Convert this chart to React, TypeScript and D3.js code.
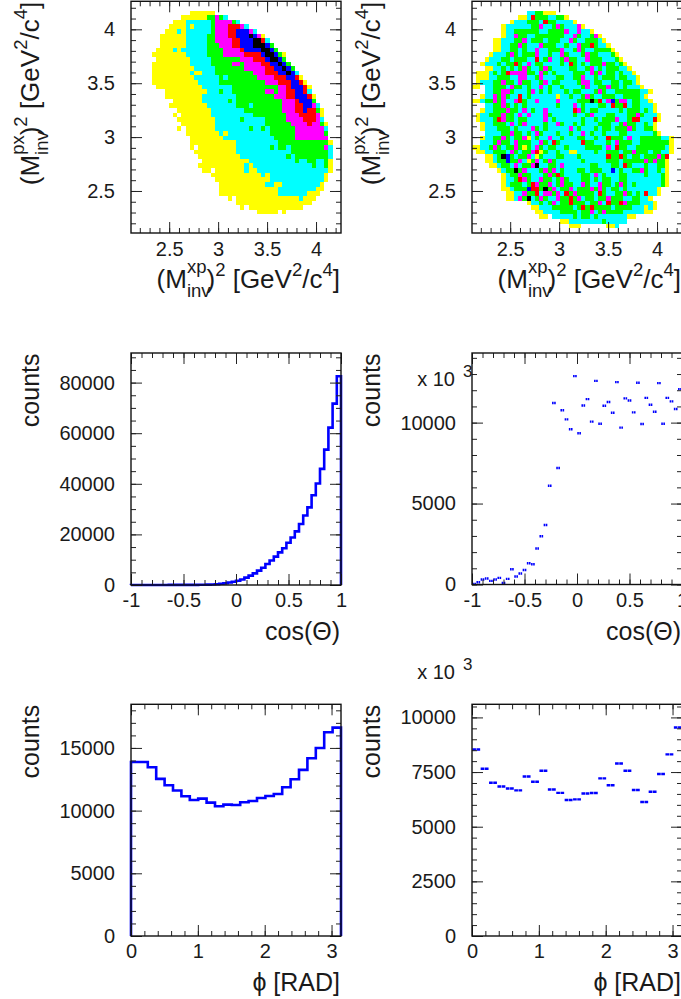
import React, { useEffect, useRef } from 'react';
import * as d3 from 'd3';

// colour levels of the 2D maps: 0 is an empty cell
const levelColors = ['none', '#ffff00', '#00ffff', '#00ff00', '#ff00ff', '#ff0000', '#0000ff', '#000000'];

// left map, run-length rows: "startCol level*count level ..."
const dalitzRows = [
  '', '',
  '14 1*6',
  '12 1*6 3*2 4 3 2',
  '10 1*3 2*6 3 4*4 3 2',
  '9 1*4 2 1 2*4 3 4*3 5*3 4 2',
  '8 1*3 2 1 2*6 3 4*3 5*2 6*3 4 2',
  '7 1*6 2*5 3*2 4*3 5*2 6*3 7 6 4 1',
  '7 1*6 2*5 3*2 4*4 5*2 6*3 7*2 5 2',
  '7 1*6 2*5 3*3 4*3 5*2 6*3 7*3 6 3',
  '6 1*4 2 1 2*6 3*4 4*4 5 6*4 7*2 6 3',
  '5 1*8 2*5 3*4 4*5 5*4 6 7*2 6 3 1',
  '6 1*8 2*5 3*7 4*3 5*3 6 7*2 6 3',
  '5 1*9 2*5 3*5 4*2 3 4*4 5*2 6*2 7 6 3',
  '5 1*10 2*5 3*7 4*5 5*2 6*2 7 6 3',
  '5 1*9 2 1*2 2*3 3*9 4*3 5*3 6*2 7 6 2',
  '5 1*10 2*6 3 2 3*7 4*4 5*3 6*2 5 1',
  '5 1*11 2*5 3*11 4*3 5*3 6*2 5 1',
  '6 1*11 2*7 3*11 4*2 5 6*3 5 1',
  '8 1*10 2*3 3 2*2 3*8 4*2 3 4*2 5*2 6*2 5 2',
  '8 1*9 2*8 3*9 4*3 5*2 6*3 5 1',
  '10 1*7 2*6 3 2 3*11 4*3 5 6*3 3',
  '9 1*9 2*7 3*3 2 3*7 4*3 5*2 6*2 4 2',
  '11 1*8 2*8 3*9 4*3 5*2 6 5*2 3 1',
  '10 1 0 1*7 2*10 3*8 4*3 5*4 4 1',
  '11 1*9 2*6 3 2*5 3*5 4*4 5*3 4 2',
  '12 1*8 2*12 3*6 4*4 5 4*2 3 1',
  '11 1 0 1*7 2*8 3 2*2 3 2 3*6 4*7 2',
  '13 1*8 2 1 2*10 3*6 4*7 3',
  '14 1*8 2*12 3*5 4*8',
  '14 1*11 2*10 3*12 1',
  '14 1 0 1*9 2*8 3 2 3*2 2 3*8 4 2',
  '15 1*10 2*13 3*9 2',
  '16 1*10 2*11 3 2 3*8 2',
  '17 1*11 2*11 3 2*2 3*2 2*2 3 1',
  '16 1*11 2 1 2*14 3 2*2 3 1',
  '17 1*2 0 1*7 2 1*2 2*17 1',
  '19 1*12 2 1 2*13 1',
  '20 1*13 2*13 1',
  '21 1*11 2*2 1*2 2*9 1',
  '21 1*14 2*9 1*2',
  '21 1*14 2*7 1*3',
  '23 1 0 1*15 2 1*3',
  '25 1*18',
  '26 1 0 1*13',
  '30 1*5 0 1',
];

// right map, [startCol, levels per cell]
const flatRows: [number, string][] = [
  [0, ''], [0, ''],
  [13, '2233111'],
  [11, '112233322331'],
  [9, '1222333223322221'],
  [7, '12222223342234322241'],
  [7, '1223333332233334224221'],
  [7, '122433223333333224322341'],
  [5, '112223342333233322432233321'],
  [5, '1122334322243332232243333221'],
  [5, '11223323224223334223432233331'],
  [4, '1222343233342232243222343322231'],
  [3, '122233233322223422343322433322231'],
  [2, '12223233432423322223243232333433231'],
  [3, '11223232343223432222332234232333221'],
  [1, '11123233444433243232222333243423323221'],
  [1, '111223332234223422233223342232333233221'],
  [1, '122233433243322342332222344233223323321'],
  [0, '11022333243323224232232222342233433232221'],
  [3, '2233443222342323222323322234322333333221'],
  [2, '1224343224232222221223223432233322333321'],
  [0, '1123343422433224222242222333334243344233221'],
  [3, '22334323232222222322242322233223332332221'],
  [2, '122333433242322422222224323322222323332321'],
  [1, '12233343324242224322222322342223322233432221'],
  [1, '12223343323322224232222223223233342233322221'],
  [2, '122333242342222322432232322233322343322321'],
  [2, '12223332322243232222242322232332333432 2331'],
  [3, '222233433232432223223224232232223322222231'],
  [2, '1223343233412322422322233223224333242233333221'],
  [2, '2223433243332243233222223332223243332233333331'],
  [0, '112234323343132432332232222333324233322333333321'],
  [1, '11223332432334213223221122223223332334333233221'],
  [3, '11233432334213222332223222222233332332333431'],
  [3, '11233233421342343222222322222333233333434331'],
  [4, '1123324233422233242222223322233243222322331'],
  [6, '12333342223434232223323332222322334322321'],
  [7, '1233433222343432222332423222332222322231'],
  [7, '1223343224332343222332323322332222222231'],
  [7, '1233323243342343322432243323432322222231'],
  [7, '11233324134342334233343432332322222221'],
  [8, '1122433324434233433332332233432322221'],
  [8, '11243323432243323423323343332233221'],
  [13, '1223234233433323342333343332221'],
  [14, '112223333323433333323333222121'],
  [15, '1122223333233423433332222211'],
  [16, '11022222323323222222211'],
  [21, '1122222222322222'],
  [23, '111000000112'],
];

// [row, col, level] for the sparse high cells of the right map
const flatAccents = [
  [3, 14, 5], [4, 17, 5], [9, 28, 5], [13, 23, 5], [12, 15, 5], [13, 10, 5], [15, 8, 5], [16, 11, 4],
  [20, 11, 5], [21, 11, 5], [21, 28, 7], [21, 33, 6], [21, 30, 5], [22, 33, 5], [23, 24, 5], [22, 36, 5],
  [25, 38, 5], [25, 39, 5], [25, 43, 5], [25, 6, 5], [29, 32, 5], [30, 19, 5], [30, 26, 5], [31, 34, 5],
  [32, 15, 5], [33, 7, 7], [33, 8, 6], [34, 8, 6], [33, 32, 5], [33, 35, 5], [33, 46, 5], [35, 15, 7],
  [36, 10, 7], [36, 33, 6], [35, 36, 5], [37, 20, 5], [38, 11, 5], [39, 14, 5], [40, 13, 6], [40, 17, 7],
  [40, 14, 5], [40, 15, 5], [41, 15, 5], [41, 22, 5], [41, 30, 5], [41, 41, 5], [42, 13, 7], [42, 23, 5],
  [43, 23, 5], [43, 32, 5], [43, 35, 5], [44, 26, 5], [44, 28, 5],
];

// cos(theta), 50 bins from -1 to 1
const cosMeasured = [
  10, 12, 14, 15, 18, 20, 22, 25, 28, 30, 32, 35, 38, 40, 45, 60, 80, 100, 150, 200,
  300, 500, 700, 1000, 1300, 1700, 2200, 2900, 3700, 4600, 5700, 6800, 8300, 9700, 11200, 12900, 14500, 16700, 18800, 21200,
  24100, 27500, 30700, 35500, 40100, 45900, 53500, 62200, 71700, 82500,
];
const cosFlat = [
  40, 140, 310, 370, 225, 310, 410, 100, 350, 945, 490, 680, 900, 1310, 1250, 2220, 2980, 3680, 6100, 11210,
  7200, 10760, 10200, 9590, 12870, 9340, 11060, 11450, 10060, 12580, 9930, 11040, 11270, 10610, 12500, 9690, 11500, 11370, 10630, 12460,
  9910, 11530, 11100, 10670, 12440, 9930, 11530, 11310, 10840, 12070,
];

// phi, 25 bins from 0 to pi
const phiMeasured = [
  13880, 13880, 13460, 12530, 12020, 11600, 11150, 10850, 10960, 10640, 10350, 10480, 10450, 10670, 10770, 11010, 11170, 11330, 11860, 12500,
  13250, 14180, 15000, 16250, 16620,
];
const phiFlat = [
  8530, 7650, 7010, 6840, 6750, 6660, 7300, 7060, 7560, 6700, 6550, 6220, 6250, 6520, 6540, 7210, 6900, 7890, 7560, 6680,
  6130, 6600, 7410, 8310, 9540,
];

const massTicks = [2.5, 3, 3.5, 4];
const cosTicks = [-1, -0.5, 0, 0.5, 1];
const phiTicks = [0, 1, 2, 3];

const FONT = '"Liberation Sans", Arial, sans-serif';

function decodeRuns(rows) {
  const cells = [];
  rows.forEach((row, r) => {
    if (!row) return;
    const parts = row.split(' ');
    let col = +parts[0];
    parts.slice(1).forEach(p => {
      const [level, count] = p.split('*');
      const n = count ? +count : 1;
      for (let i = 0; i < n; i++) {
        if (+level > 0) cells.push({ r, c: col, level: +level });
        col++;
      }
    });
  });
  return cells;
}

function decodeFlat(rows, accents) {
  const byKey = new Map();
  rows.forEach(([start, s], r) => {
    s.replace(/ /g, '').split('').forEach((ch, i) => {
      if (+ch > 0) byKey.set(r + ':' + (start + i), { r, c: start + i, level: +ch });
    });
  });
  accents.forEach(([r, c, level]) => byKey.set(r + ':' + c, { r, c, level }));
  return Array.from(byKey.values());
}

const MASS = 26;
const SUB = 18.5;
const massTitle = a => [
  { t: '(M', size: MASS },
  { t: 'inv', size: SUB, dy: 9 },
  { t: a, size: SUB, dy: -24, dx: -23.6 },
  { t: ')', size: MASS, dy: 15 },
  { t: '2', size: SUB, dy: -12 },
  { t: ' [GeV', size: MASS, dy: 12 },
  { t: '2', size: SUB, dy: -12 },
  { t: '/c', size: MASS, dy: 12 },
  { t: '4', size: SUB, dy: -12 },
  { t: ']', size: MASS, dy: 12 },
];

const panels = [
  { left: 131, top: 1.3, bottom: 233, xd: [2.11, 4.255], yd: [2.11, 4.26], xt: massTicks, xm: 0.1, yt: massTicks, ym: 0.1, labelY: 23,
    cells: decodeRuns(dalitzRows), xTitle: massTitle('xp'), yTitle: massTitle('px'), xTitleY: 288 },
  { left: 472, top: 1.3, bottom: 233, xd: [2.11, 4.255], yd: [2.11, 4.26], xt: massTicks, xm: 0.1, yt: massTicks, ym: 0.1, labelY: 23,
    cells: decodeFlat(flatRows, flatAccents), xTitle: massTitle('xp'), yTitle: massTitle('px'), xTitleY: 288 },
  { left: 131, top: 353, bottom: 585, xd: [-1, 1], yd: [0, 91700], xt: cosTicks, xm: 0.1, yt: [0, 20000, 40000, 60000, 80000], ym: 5000, labelY: 22,
    hist: cosMeasured, xTitle: [{ t: 'cos(Θ)' }], yTitle: [{ t: 'counts' }], xTitleY: 640 },
  { left: 472, top: 353, bottom: 584.5, xd: [-1, 1], yd: [0, 14300], xt: cosTicks, xm: 0.1, yt: [0, 5000, 10000], ym: 1000, labelY: 22,
    dots: cosFlat, xTitle: [{ t: 'cos(Θ)' }], yTitle: [{ t: 'counts' }], xTitleY: 640, expo: 386 },
  { left: 131, top: 704.3, bottom: 936, xd: [0, Math.PI], yd: [0, 18480], xt: phiTicks, xm: 0.2, yt: [0, 5000, 10000, 15000], ym: 1000, labelY: 22,
    hist: phiMeasured, xTitle: [{ t: 'ϕ [RAD]' }], yTitle: [{ t: 'counts' }], xTitleY: 991 },
  { left: 472, top: 704.3, bottom: 936, xd: [0, Math.PI], yd: [0, 10600], xt: phiTicks, xm: 0.2, yt: [0, 2500, 5000, 7500, 10000], ym: 500, labelY: 22,
    dots: phiFlat, xTitle: [{ t: 'ϕ [RAD]' }], yTitle: [{ t: 'counts' }], xTitleY: 991, expo: 679 },
];

const WIDTH = 210;
const BINS2D = 50;

function addTitle(svg, segments, attrs) {
  const text = svg.append('text')
    .attr('text-anchor', 'end')
    .attr('font-family', FONT)
    .attr('font-size', 25)
    .attr('fill', '#1a1a1a')
    .style('white-space', 'pre');
  Object.entries(attrs).forEach(([k, v]) => text.attr(k, v));
  segments.forEach(s => {
    const span = text.append('tspan').text(s.t).attr('font-size', s.size || 25);
    if (s.dy) span.attr('dy', s.dy);
    if (s.dx) span.attr('dx', s.dx);
  });
}

function drawPanel(svg, p) {
  const right = p.left + WIDTH;
  const x = d3.scaleLinear().domain(p.xd).range([p.left, right]);
  const y = d3.scaleLinear().domain(p.yd).range([p.bottom, p.top]);
  const g = svg.append('g');

  // 2D map cells
  if (p.cells) {
    const bx = d3.scaleBand().domain(d3.range(BINS2D)).range([p.left, right]);
    const by = d3.scaleBand().domain(d3.range(BINS2D)).range([p.top, p.bottom]);
    g.selectAll('rect.cell').data(p.cells).enter().append('rect')
      .attr('class', 'cell')
      .attr('x', d => bx(d.c))
      .attr('y', d => by(d.r))
      .attr('width', bx.bandwidth())
      .attr('height', by.bandwidth())
      .attr('fill', d => levelColors[d.level])
      .attr('shape-rendering', 'crispEdges');
  }

  const [x0, x1] = p.xd;

  // step histogram
  if (p.hist) {
    const n = p.hist.length;
    const edge = i => x0 + (i * (x1 - x0)) / n;
    const pts = [[edge(0), 0]];
    p.hist.forEach((v, i) => pts.push([edge(i), v]));
    pts.push([edge(n), p.hist[n - 1]], [edge(n), 0]);
    const line = d3.line().x(d => x(d[0])).y(d => y(d[1])).curve(d3.curveStepAfter);
    g.append('path').attr('d', line(pts)).attr('fill', 'none').attr('stroke', '#0000ff').attr('stroke-width', 2.6);
  }

  // bin-width dashes
  if (p.dots) {
    const n = p.dots.length;
    const bw = WIDTH / n;
    const len = bw - 0.5;
    g.selectAll('line.dot').data(p.dots).enter().append('line')
      .attr('class', 'dot')
      .attr('x1', (d, i) => x(x0 + (i * (x1 - x0)) / n) + 0.25)
      .attr('x2', (d, i) => x(x0 + ((i + 1) * (x1 - x0)) / n) - 0.25)
      .attr('y1', d => y(d))
      .attr('y2', d => y(d))
      .attr('stroke', '#0000ff')
      .attr('stroke-width', 2.4)
      .attr('stroke-dasharray', `${(len - 0.5) / 2} 0.5`);
  }

  // ticks point inward on all four sides
  const xMinor = d3.range(Math.ceil(x0 / p.xm), Math.floor(x1 / p.xm + 1e-6) + 1).map(i => +(i * p.xm).toFixed(3));
  const yMinor = d3.range(Math.ceil(p.yd[0] / p.ym), Math.floor(p.yd[1] / p.ym + 1e-6) + 1).map(i => +(i * p.ym).toFixed(3));
  const fmt = d => String(d);
  const none = () => '';
  const addAxis = (axis, tx, ty) => g.append('g').attr('transform', `translate(${tx},${ty})`).call(axis).call(s => {
    s.select('.domain').remove();
    s.selectAll('line').attr('stroke', '#222');
  });

  addAxis(d3.axisBottom(x).tickValues(xMinor).tickSize(-5).tickFormat(none), 0, p.bottom);
  addAxis(d3.axisTop(x).tickValues(xMinor).tickSize(-5).tickFormat(none), 0, p.top);
  addAxis(d3.axisLeft(y).tickValues(yMinor).tickSize(-5).tickFormat(none), p.left, 0);
  addAxis(d3.axisRight(y).tickValues(yMinor).tickSize(-5).tickFormat(none), right, 0);
  addAxis(d3.axisTop(x).tickValues(p.xt).tickSize(-11).tickFormat(none), 0, p.top);
  addAxis(d3.axisRight(y).tickValues(p.yt).tickSize(-11).tickFormat(none), right, 0);

  const xAxis = addAxis(d3.axisBottom(x).tickValues(p.xt).tickSize(-11).tickFormat(fmt), 0, p.bottom);
  xAxis.selectAll('text').attr('y', p.labelY).attr('dy', null);
  const yAxis = addAxis(d3.axisLeft(y).tickValues(p.yt).tickSize(-11).tickFormat(fmt), p.left, 0);
  yAxis.selectAll('text').attr('x', -16);
  [xAxis, yAxis].forEach(a => a.selectAll('text').attr('font-family', FONT).attr('font-size', 20).attr('fill', '#1a1a1a'));

  g.append('rect')
    .attr('x', p.left).attr('y', p.top)
    .attr('width', WIDTH).attr('height', p.bottom - p.top)
    .attr('fill', 'none').attr('stroke', '#111').attr('stroke-width', 1.4);

  addTitle(svg, p.xTitle, { x: right - 1, y: p.xTitleY });
  addTitle(svg, p.yTitle, {
    transform: `translate(${p.left - 92},${p.top + 0.5}) rotate(-90)`,
  });

  if (p.expo) {
    svg.append('text').attr('x', p.left - 17).attr('y', p.expo).attr('text-anchor', 'end')
      .attr('font-family', FONT).attr('font-size', 20).attr('fill', '#1a1a1a').text('x 10');
    svg.append('text').attr('x', p.left - 9).attr('y', p.expo - 9).attr('text-anchor', 'start')
      .attr('font-family', FONT).attr('font-size', 17).attr('fill', '#1a1a1a').text('3');
  }
}

export default function App() {
  const svgRef = useRef(null);

  useEffect(() => {
    const svg = d3.select(svgRef.current);
    svg.selectAll('*').remove();
    panels.forEach(p => drawPanel(svg, p));
  }, []);

  return (
    <svg
      ref={svgRef}
      width={681}
      height={999}
      style={{ position: 'absolute', left: 0, top: 0, background: '#fff' }}
    />
  );
}
